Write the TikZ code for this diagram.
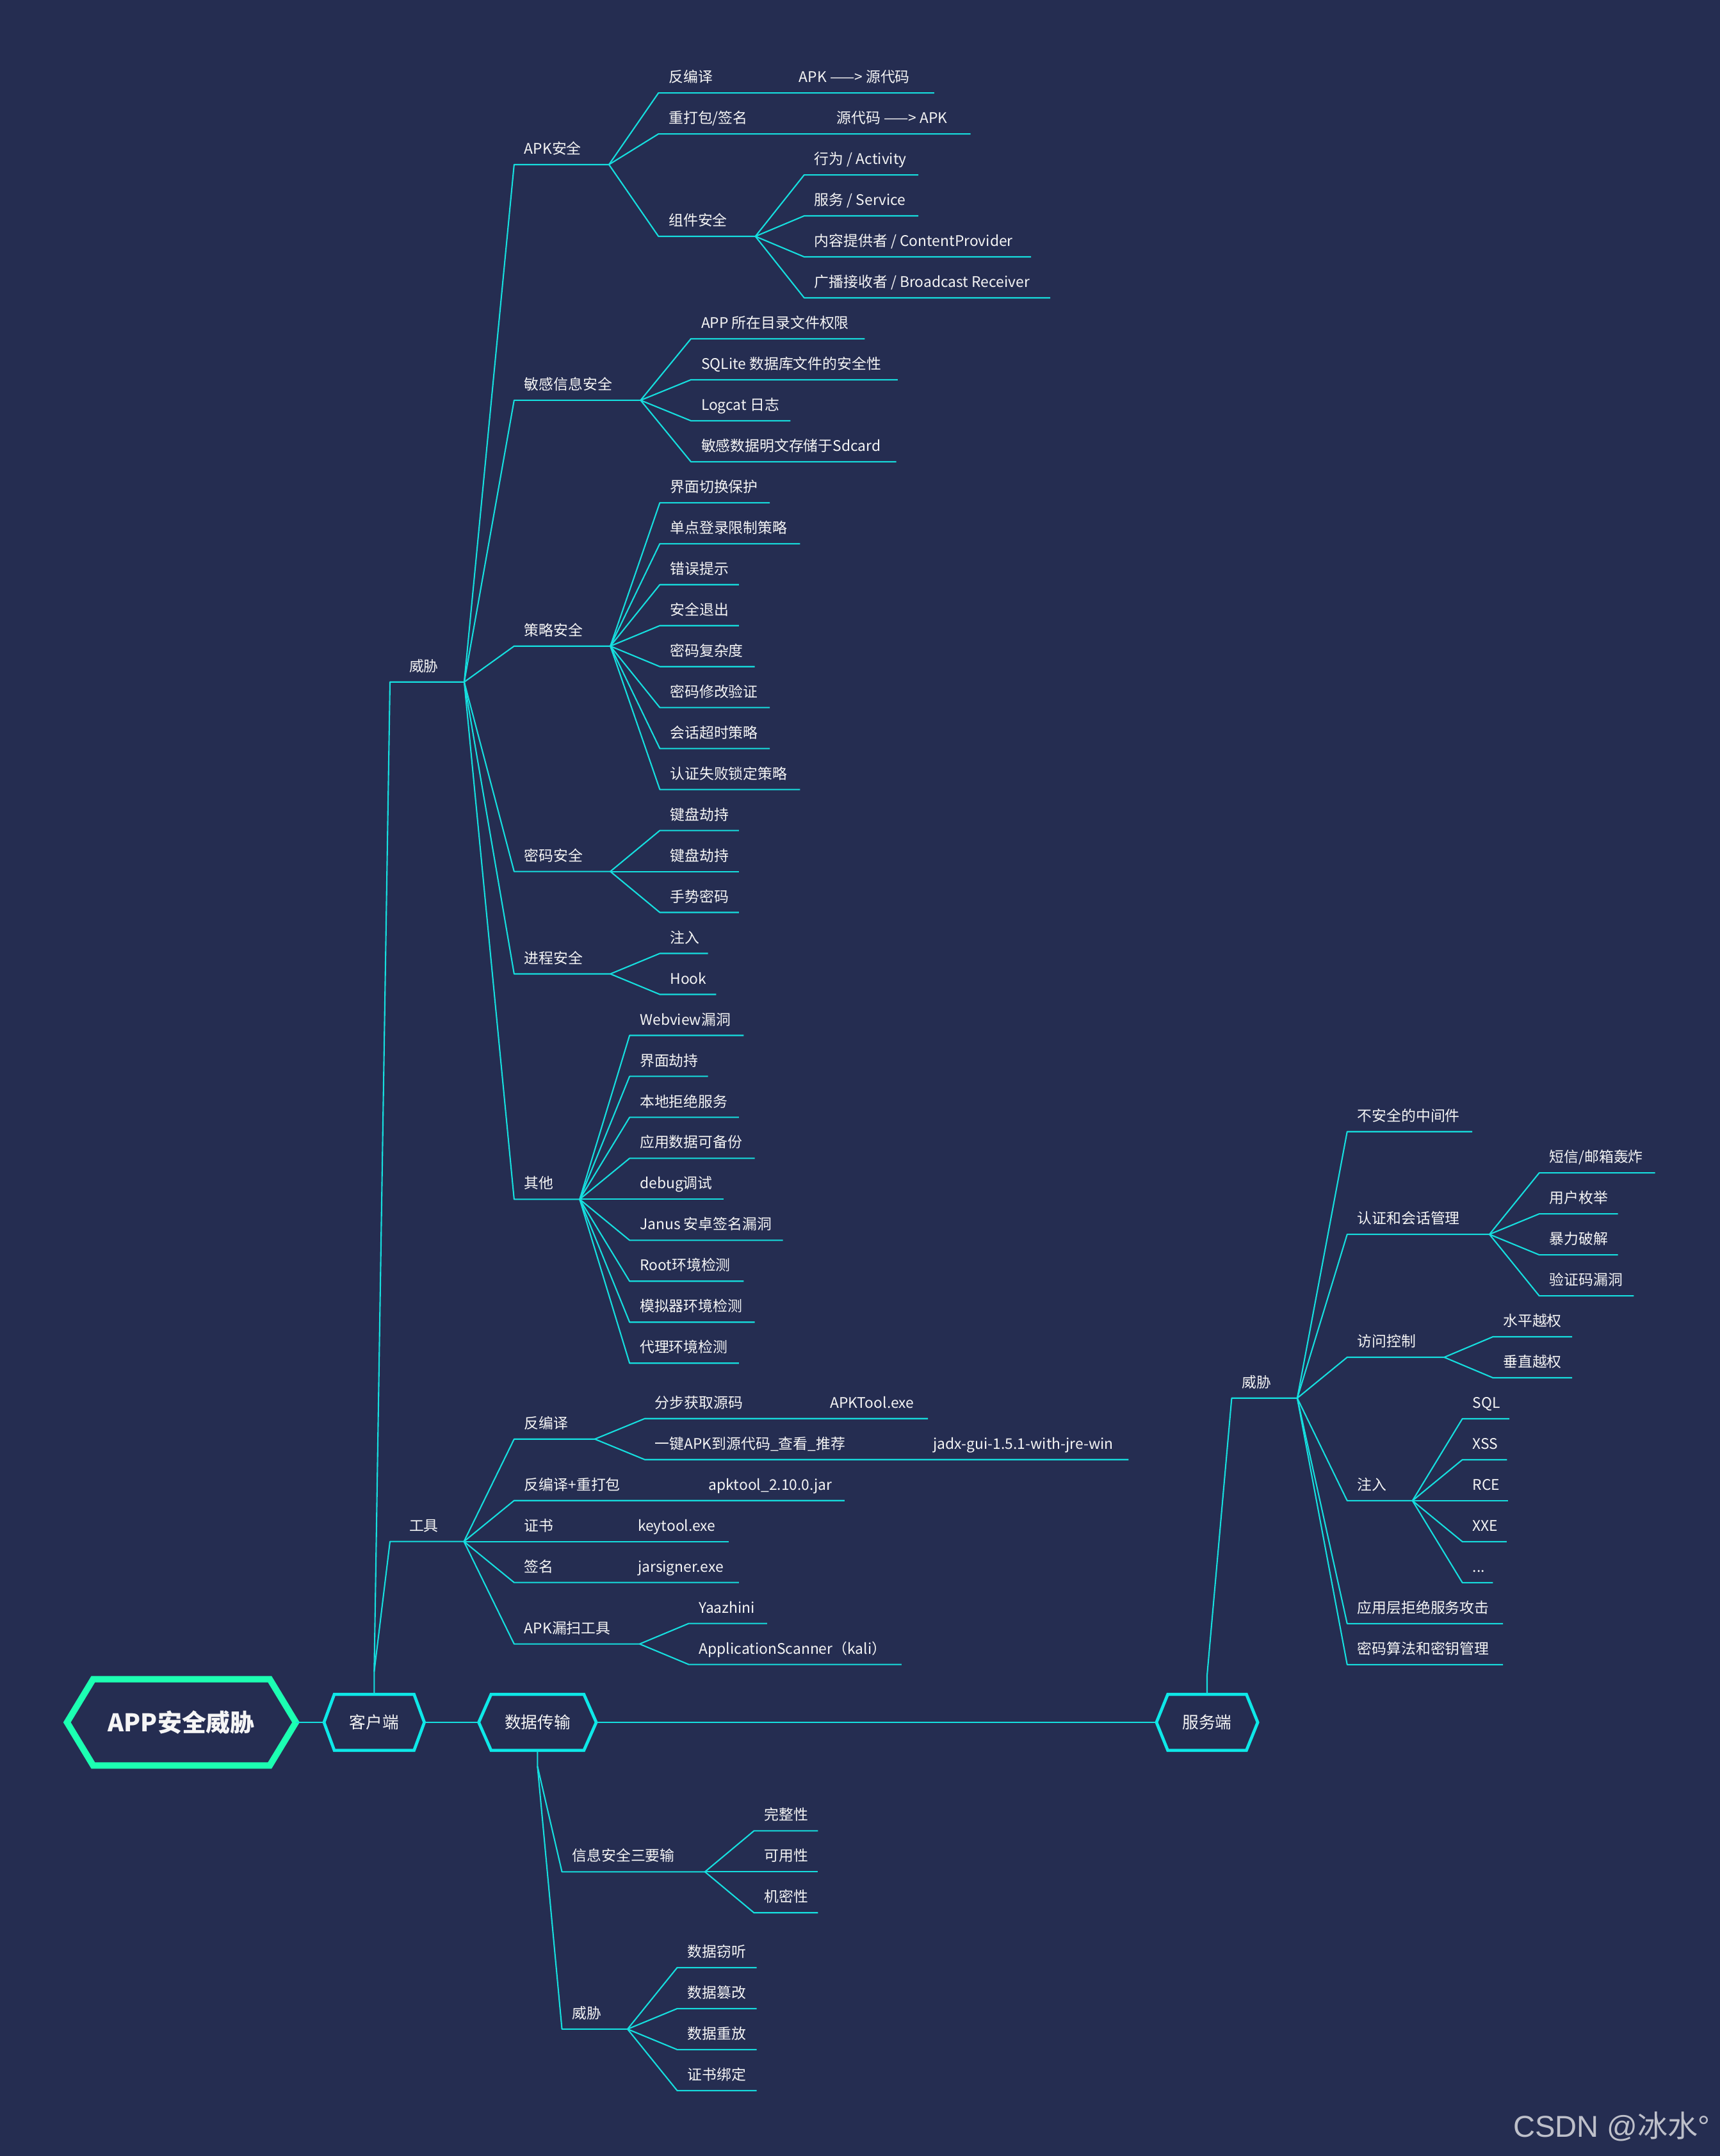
\documentclass[tikz,border=0pt]{standalone}
\usepackage{fontspec}
\setmainfont{Noto Sans CJK SC}
\newfontfamily\wmfont{Liberation Sans}
\usetikzlibrary{calc,positioning,shapes.symbols}

\definecolor{bgc}{RGB}{37,45,81}
\definecolor{lnc}{RGB}{22,222,222}
\definecolor{hexc}{RGB}{14,232,232}
\definecolor{grnc}{RGB}{28,255,178}
\definecolor{txtc}{RGB}{245,245,245}
\definecolor{wmc}{RGB}{190,192,202}

\tikzset{
  ln/.style={draw=lnc, line width=0.6pt, line join=round},
  item/.style={anchor=south west, inner xsep=0.161cm, inner ysep=0.164cm, outer sep=0pt,
    text depth=0pt, text=txtc, font=\fontsize{6.5}{7.8}\selectfont},
  itemw/.style={item, inner xsep=0.3cm},
  hexa/.style={signal, signal to=west and east, draw=hexc, line width=1.35pt, inner sep=0pt,
    outer sep=0pt, align=center, text=txtc, minimum height=0.876cm,
    font=\fontsize{7.3}{8.8}\selectfont}
}

\begin{document}
\begin{tikzpicture}[x=0.02147cm, y=-0.02147cm]

\fill[bgc] (0,0) rectangle (1251,1568);
\useasboundingbox (0,0) rectangle (1251,1568);

% main line
\node[hexa, draw=grnc, line width=2.85pt, text width=2.759cm, minimum height=1.346cm,
  signal pointer angle=117.6, font=\fontsize{10.8}{13}\selectfont\bfseries] (root) at (132,1252.6) {APP安全威胁};
\node[hexa, text width=1.245cm, signal pointer angle=139.6] (kh) at (272.2,1252.6) {客户端};
\node[hexa, text width=1.449cm, signal pointer angle=132.4] (sj) at (391,1252.6) {数据传输};
\node[hexa, text width=1.228cm, signal pointer angle=136] (fw) at (878.1,1252.6) {服务端};
\draw[ln] (root.east) -- (kh.west) (kh.east) -- (sj.west) (sj.east) -- (fw.west);

% client
\coordinate (kh-s) at ($(kh.north)+(0,-16.5)$);
\node[itemw] (cw) at (283.7,496) {威胁};
\node[itemw] (gj) at (283.7,1121.1) {工具};
\draw[ln] (kh.north) -- (kh-s) -- (cw.south west) -- ++(54,0) coordinate (cw-j);
\draw[ln] (kh-s) -- (gj.south west) -- ++(53.8,0) coordinate (gj-j);

\foreach \nm/\y/\len/\lab in {apk/119.7/69/APK安全, mg/291.1/92/敏感信息安全, cl/469.9/70/策略安全,
    mm/633.8/70/密码安全, jc/708.3/70/进程安全, qt/872.2/47.7/其他}{
  \node[item] (\nm) at (374,\y) {\lab};
  \draw[ln] (cw-j) -- (\nm.south west) -- ++(\len,0) coordinate (\nm-j);
}

\foreach \nm/\y/\len/\lab in {fb/67.6/200.6/反编译, cd/97.4/227/{重打包/签名}, zj/171.9/70.5/组件安全}{
  \node[item] (\nm) at (479,\y) {\lab};
  \draw[ln] (apk-j) -- (\nm.south west) -- ++(\len,0) coordinate (\nm-j);
}
\node[item] (fb-t) at (573.8,67.6) {APK ——> 源代码};
\node[item] (cd-t) at (601.3,97.4) {源代码 ——> APK};

\foreach \y/\xe/\lab [count=\i] in {127.2/668/{行为 / Activity}, 157/668/{服务 / Service},
    186.8/750/{内容提供者 / ContentProvider}, 216.6/764/{广播接收者 / Broadcast Receiver}}{
  \node[item] (zj\i) at (585,\y) {\lab};
  \draw[ln] (zj-j) -- (zj\i.south west) -- (\xe,\y);
}

\foreach \y/\xe/\lab [count=\i] in {246.4/629/APP 所在目录文件权限, 276.2/653/SQLite 数据库文件的安全性,
    306/575/Logcat 日志, 335.8/652/敏感数据明文存储于Sdcard}{
  \node[item] (mg\i) at (502.6,\y) {\lab};
  \draw[ln] (mg-j) -- (mg\i.south west) -- (\xe,\y);
}

\foreach \y/\xe/\lab [count=\i] in {365.6/560/界面切换保护, 395.4/582/单点登录限制策略, 425.2/537.5/错误提示,
    455/537.5/安全退出, 484.8/549/密码复杂度, 514.6/560/密码修改验证, 544.4/560/会话超时策略,
    574.2/582/认证失败锁定策略}{
  \node[item] (cl\i) at (480,\y) {\lab};
  \draw[ln] (cl-j) -- (cl\i.south west) -- (\xe,\y);
}

\foreach \y/\xe/\lab [count=\i] in {604/537.5/键盘劫持, 633.8/537.5/键盘劫持, 663.6/537.5/手势密码}{
  \node[item] (mm\i) at (480,\y) {\lab};
  \draw[ln] (mm-j) -- (mm\i.south west) -- (\xe,\y);
}

\foreach \y/\xe/\lab [count=\i] in {693.4/515/注入, 723.2/521/Hook}{
  \node[item] (jc\i) at (480,\y) {\lab};
  \draw[ln] (jc-j) -- (jc\i.south west) -- (\xe,\y);
}

\foreach \y/\xe/\lab [count=\i] in {753/541/Webview漏洞, 782.8/515/界面劫持, 812.6/537.5/本地拒绝服务,
    842.4/549/应用数据可备份, 872.2/526.5/debug调试, 902/569.5/Janus 安卓签名漏洞,
    931.8/541/Root环境检测, 961.6/549/模拟器环境检测, 991.4/537.5/代理环境检测}{
  \node[item] (qt\i) at (458,\y) {\lab};
  \draw[ln] (qt-j) -- (qt\i.south west) -- (\xe,\y);
}

% tools
\foreach \nm/\y/\len/\lab in {gf/1046.6/58.7/反编译, g2/1091.3/240.4/反编译+重打包, g3/1121.1/156/证书,
    g4/1150.9/163.5/签名, gs/1195.6/91.3/APK漏扫工具}{
  \node[item] (\nm) at (374,\y) {\lab};
  \draw[ln] (gj-j) -- (\nm.south west) -- ++(\len,0) coordinate (\nm-j);
}
\node[item] (g2-t) at (508.1,1091.3) {apktool\_2.10.0.jar};
\node[item] (g3-t) at (456.5,1121.1) {keytool.exe};
\node[item] (g4-t) at (456.5,1150.9) {jarsigner.exe};

\foreach \y/\xe/\lab [count=\i] in {1031.7/675/分步获取源码, 1061.5/821/一键APK到源代码\_查看\_推荐}{
  \node[item] (gf\i) at (469,\y) {\lab};
  \draw[ln] (gf-j) -- (gf\i.south west) -- (\xe,\y);
}
\node[item] (gf1-t) at (596.3,1031.7) {APKTool.exe};
\node[item] (gf2-t) at (671.5,1061.5) {jadx-gui-1.5.1-with-jre-win};

\foreach \y/\xe/\lab [count=\i] in {1180.7/558/Yaazhini, 1210.5/655.8/ApplicationScanner（kali）}{
  \node[item] (gs\i) at (501,\y) {\lab};
  \draw[ln] (gs-j) -- (gs\i.south west) -- (\xe,\y);
}

% data transfer
\coordinate (sj-s) at ($(sj.south)+(0,11.6)$);
\node[item] (xx) at (408.8,1361.3) {信息安全三要输};
\node[item] (dw) at (408.8,1475.7) {威胁};
\draw[ln] (sj.south) -- (sj-s) -- (xx.south west) -- ++(104,0) coordinate (xx-j);
\draw[ln] (sj-s) -- (dw.south west) -- ++(47.7,0) coordinate (dw-j);

\foreach \y/\lab [count=\i] in {1331.5/完整性, 1361.3/可用性, 1391.1/机密性}{
  \node[item] (xx\i) at (548.5,\y) {\lab};
  \draw[ln] (xx-j) -- (xx\i.south west) -- (595,\y);
}
\foreach \y/\lab [count=\i] in {1431/数据窃听, 1460.8/数据篡改, 1490.6/数据重放, 1520.4/证书绑定}{
  \node[item] (dw\i) at (492.6,\y) {\lab};
  \draw[ln] (dw-j) -- (dw\i.south west) -- (550.4,\y);
}

% server
\coordinate (fw-s) at ($(fw.north)+(0,-13.8)$);
\node[item] (sw) at (896,1016.8) {威胁};
\draw[ln] (fw.north) -- (fw-s) -- (sw.south west) -- ++(47.7,0) coordinate (sw-j);

\foreach \nm/\y/\len/\lab in {s1/823/91/不安全的中间件, rz/897.7/103.5/认证和会话管理, fk/987.1/70.6/访问控制,
    zr/1091.4/47.5/注入, s5/1180.8/113.4/应用层拒绝服务攻击, s6/1210.6/113.4/密码算法和密钥管理}{
  \node[item] (\nm) at (980,\y) {\lab};
  \draw[ln] (sw-j) -- (\nm.south west) -- ++(\len,0) coordinate (\nm-j);
}

\foreach \y/\xe/\lab [count=\i] in {853/1204/{短信/邮箱轰炸}, 882.8/1177/用户枚举, 912.6/1177/暴力破解,
    942.4/1188.5/验证码漏洞}{
  \node[item] (rz\i) at (1119.7,\y) {\lab};
  \draw[ln] (rz-j) -- (rz\i.south west) -- (\xe,\y);
}
\foreach \y/\lab [count=\i] in {972.2/水平越权, 1002/垂直越权}{
  \node[item] (fk\i) at (1086,\y) {\lab};
  \draw[ln] (fk-j) -- (fk\i.south west) -- (1143.7,\y);
}
\foreach \y/\xe/\lab [count=\i] in {1031.8/1098/SQL, 1061.6/1096.3/XSS, 1091.4/1097/RCE, 1121.2/1096/XXE}{
  \node[item] (zr\i) at (1063.8,\y) {\lab};
  \draw[ln] (zr-j) -- (zr\i.south west) -- (\xe,\y);
}
\node[item] (zr5) at (1063.8,1151) {...};
\draw[ln] (zr-j) -- (zr5.south west) -- ++(22.2,0);

\node[anchor=base west, inner sep=0pt, text=wmc, font=\fontsize{13.4}{16}\selectfont] (wm)
  at (1100.6,1554.3) {{\wmfont CSDN @}冰水{\wmfont °}};

\end{tikzpicture}
\end{document}
